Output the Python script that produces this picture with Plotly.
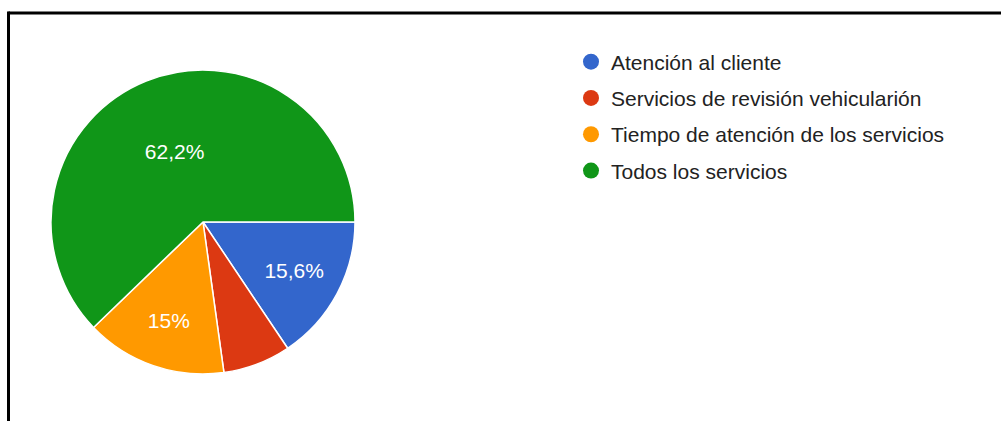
import plotly.graph_objects as go

labels = ["Atención al cliente", "Servicios de revisión vehicularión",
          "Tiempo de atención de los servicios", "Todos los servicios"]
values = [15.6, 7.2, 15.0, 62.2]
text_labels = ["15,6%", "", "15%", "62,2%"]
colors = ["#3366cc", "#dc3912", "#ff9900", "#109618"]

W, H = 1001, 421
FONT = "Arial, Liberation Sans, sans-serif"
fig = go.Figure()
fig.add_trace(go.Pie(
    labels=labels, values=values, text=text_labels,
    textinfo="text", textposition="inside", insidetextorientation="horizontal",
    sort=False, direction="clockwise", rotation=90,
    marker=dict(colors=colors, line=dict(color="white", width=1.5)),
    textfont=dict(color="white", size=21, family=FONT),
    domain=dict(x=[51/W, 355/W], y=[1-374/H, 1-70/H]),
    showlegend=False, hoverinfo="label+percent",
))
for lab, col in zip(labels, colors):
    fig.add_trace(go.Scatter(x=[None], y=[None], mode="markers", name=lab,
                             marker=dict(symbol="circle", size=16, color=col),
                             legendgroup=lab))

fig.update_layout(
    width=W, height=H, margin=dict(l=0, r=0, t=0, b=0),
    paper_bgcolor="white", plot_bgcolor="white",
    xaxis=dict(visible=False), yaxis=dict(visible=False),
    legend=dict(x=571/W, y=1-41.5/H, xanchor="left", yanchor="top",
                font=dict(size=21, color="#222222", family=FONT),
                tracegroupgap=6, itemsizing="trace", bgcolor="rgba(0,0,0,0)"),
    font=dict(family=FONT),
    shapes=[
        dict(type="line", xref="paper", yref="paper", x0=8.5/W, x1=1.0, y0=1-13/H, y1=1-13/H,
             line=dict(color="black", width=3)),
        dict(type="line", xref="paper", yref="paper", x0=8.5/W, x1=8.5/W, y0=1-11.5/H, y1=0,
             line=dict(color="black", width=3)),
    ],
)
fig.write_html("out.html", config={"displayModeBar": False},
               post_script="document.body.style.margin='0';document.body.style.overflow='hidden';")
